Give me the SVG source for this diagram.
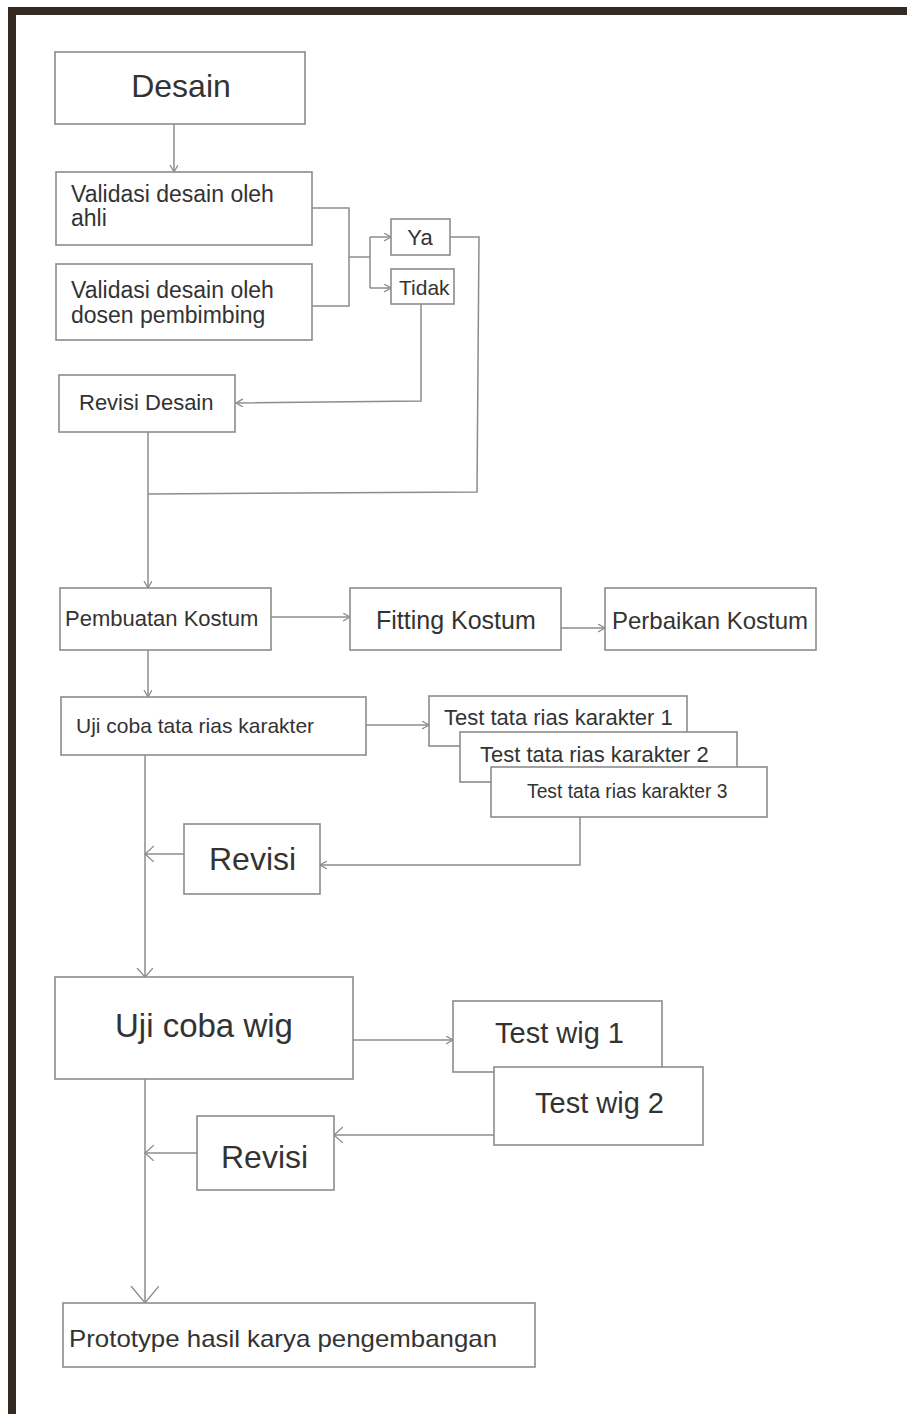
<svg xmlns="http://www.w3.org/2000/svg" width="907" height="1414" viewBox="0 0 907 1414">
<style>
.box{fill:#fff;stroke:#8c8c8c;stroke-width:1.6}
.ln{fill:none;stroke:#8c8c8c;stroke-width:1.5}
.t{font-family:"Liberation Sans",Arial,sans-serif;fill:#333}
.frame{fill:#342a24}
</style>
<defs>
<marker id="ah" markerUnits="userSpaceOnUse" markerWidth="10" markerHeight="10" refX="7" refY="4" orient="auto">
<path d="M0,0 L7,4 L0,8" fill="none" stroke="#8c8c8c" stroke-width="1.3"/>
</marker>
<marker id="ahM" markerUnits="userSpaceOnUse" markerWidth="12" markerHeight="18" refX="9" refY="8" orient="auto">
<path d="M0,0 L9,8 L0,16" fill="none" stroke="#8c8c8c" stroke-width="1.3"/>
</marker>
<marker id="ahL" markerUnits="userSpaceOnUse" markerWidth="20" markerHeight="30" refX="17" refY="14" orient="auto">
<path d="M0,0 L17,14 L0,28" fill="none" stroke="#8c8c8c" stroke-width="1.4"/>
</marker>
</defs>
<rect width="907" height="1414" fill="#fff"/>
<rect class="frame" x="8" y="7" width="899" height="8"/>
<rect class="frame" x="8" y="7" width="8" height="1407"/>

<g id="connectors">
<line class="ln" x1="174" y1="124" x2="174" y2="172" marker-end="url(#ah)"/>
<polyline class="ln" points="312,208 349,208 349,306 312,306"/>
<line class="ln" x1="349" y1="257" x2="370" y2="257"/>
<line class="ln" x1="370" y1="237" x2="370" y2="288"/>
<line class="ln" x1="370" y1="237" x2="391" y2="237" marker-end="url(#ah)"/>
<line class="ln" x1="370" y1="288" x2="391" y2="288" marker-end="url(#ah)"/>
<polyline class="ln" points="421,304 421,401 236,403" marker-end="url(#ah)"/>
<polyline class="ln" points="450,237 479,237 477,492 148,494"/>
<line class="ln" x1="148" y1="432" x2="148" y2="588" marker-end="url(#ah)"/>
<line class="ln" x1="271" y1="617" x2="350" y2="617" marker-end="url(#ah)"/>
<line class="ln" x1="561" y1="628" x2="605" y2="628" marker-end="url(#ah)"/>
<line class="ln" x1="148" y1="650" x2="148" y2="697" marker-end="url(#ah)"/>
<line class="ln" x1="366" y1="725" x2="429" y2="725" marker-end="url(#ah)"/>
<line class="ln" x1="145" y1="755" x2="145" y2="977" marker-end="url(#ahM)"/>
<polyline class="ln" points="580,817 580,865 320,865" marker-end="url(#ah)"/>
<line class="ln" x1="184" y1="854" x2="145" y2="854" marker-end="url(#ahM)"/>
<line class="ln" x1="353" y1="1040" x2="453" y2="1040" marker-end="url(#ah)"/>
<line class="ln" x1="494" y1="1135" x2="334" y2="1135" marker-end="url(#ahM)"/>
<line class="ln" x1="197" y1="1153" x2="145" y2="1153" marker-end="url(#ahM)"/>
<line class="ln" x1="145" y1="1079" x2="145" y2="1303" marker-end="url(#ahL)"/>
</g>

<g id="desain">
<rect class="box" x="55" y="52" width="250" height="72"/>
<text class="t" x="181" y="97" font-size="32" text-anchor="middle">Desain</text>
</g>
<g id="validasi-ahli">
<rect class="box" x="56" y="172" width="256" height="73"/>
<text class="t" x="71" y="202" font-size="23">Validasi desain oleh</text>
<text class="t" x="71" y="226" font-size="23">ahli</text>
</g>
<g id="validasi-dosen">
<rect class="box" x="56" y="264" width="256" height="76"/>
<text class="t" x="71" y="298" font-size="23">Validasi desain oleh</text>
<text class="t" x="71" y="323" font-size="23">dosen pembimbing</text>
</g>
<g id="ya">
<rect class="box" x="391" y="219" width="59" height="36"/>
<text class="t" x="420" y="245" font-size="22" text-anchor="middle">Ya</text>
</g>
<g id="tidak">
<rect class="box" x="391" y="269" width="63" height="35"/>
<text class="t" x="399" y="295" font-size="21">Tidak</text>
</g>
<g id="revisi-desain">
<rect class="box" x="59" y="375" width="176" height="57"/>
<text class="t" x="79" y="410" font-size="22">Revisi Desain</text>
</g>
<g id="pembuatan-kostum">
<rect class="box" x="60" y="588" width="211" height="62"/>
<text class="t" x="65" y="626" font-size="22">Pembuatan Kostum</text>
</g>
<g id="fitting-kostum">
<rect class="box" x="350" y="588" width="211" height="62"/>
<text class="t" x="376" y="629" font-size="25">Fitting Kostum</text>
</g>
<g id="perbaikan-kostum">
<rect class="box" x="605" y="588" width="211" height="62"/>
<text class="t" x="612" y="629" font-size="24">Perbaikan Kostum</text>
</g>
<g id="uji-coba-tata-rias">
<rect class="box" x="61" y="697" width="305" height="58"/>
<text class="t" x="76" y="733" font-size="21">Uji coba tata rias karakter</text>
</g>
<g id="test-rias-1">
<rect class="box" x="429" y="696" width="258" height="50"/>
<text class="t" x="444" y="725" font-size="22">Test tata rias karakter 1</text>
</g>
<g id="test-rias-2">
<rect class="box" x="460" y="732" width="277" height="50"/>
<text class="t" x="480" y="762" font-size="22">Test tata rias karakter 2</text>
</g>
<g id="test-rias-3">
<rect class="box" x="491" y="767" width="276" height="50"/>
<text class="t" x="527" y="798" font-size="19.3">Test tata rias karakter 3</text>
</g>
<g id="revisi-1">
<rect class="box" x="184" y="824" width="136" height="70"/>
<text class="t" x="209" y="870" font-size="32">Revisi</text>
</g>
<g id="uji-coba-wig">
<rect class="box" x="55" y="977" width="298" height="102"/>
<text class="t" x="115" y="1037" font-size="33">Uji coba wig</text>
</g>
<g id="test-wig-1">
<rect class="box" x="453" y="1001" width="209" height="71"/>
<text class="t" x="495" y="1043" font-size="29">Test wig 1</text>
</g>
<g id="test-wig-2">
<rect class="box" x="494" y="1067" width="209" height="78"/>
<text class="t" x="535" y="1113" font-size="29">Test wig 2</text>
</g>
<g id="revisi-2">
<rect class="box" x="197" y="1116" width="137" height="74"/>
<text class="t" x="221" y="1168" font-size="32">Revisi</text>
</g>
<g id="prototype">
<rect class="box" x="63" y="1303" width="472" height="64"/>
<text class="t" x="69" y="1347" font-size="24" textLength="428" lengthAdjust="spacingAndGlyphs">Prototype hasil karya pengembangan</text>
</g>
</svg>
